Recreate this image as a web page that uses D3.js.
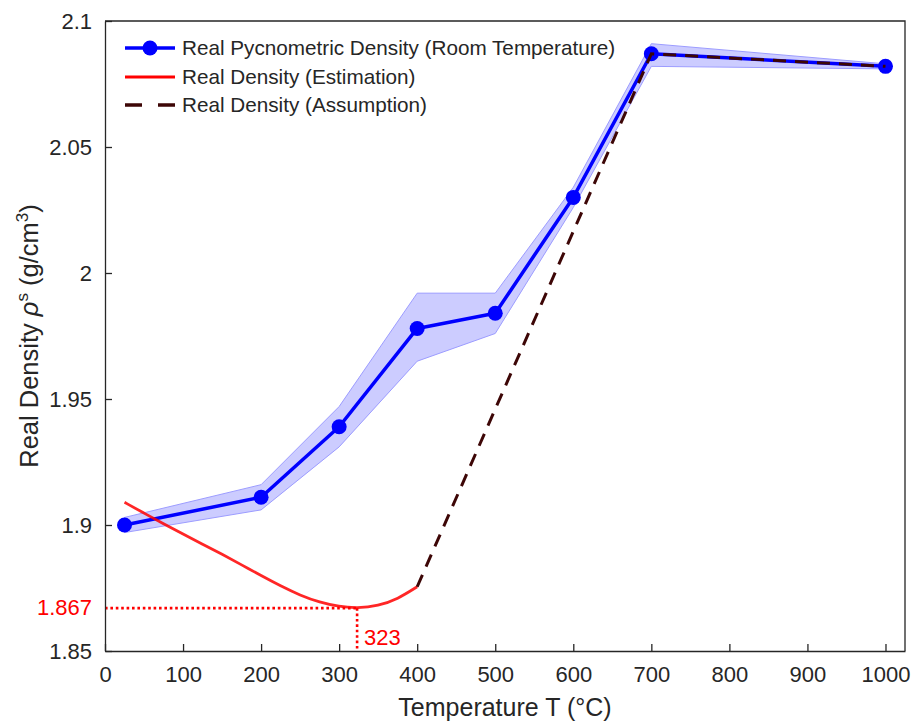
<!DOCTYPE html>
<html>
<head>
<meta charset="utf-8">
<script src="https://cdn.jsdelivr.net/npm/d3@7"></script>
<style>
	body{margin:0;background:#fff;}
	svg{font-family:"Liberation Sans",Arial,sans-serif;}
	.axis path,.axis line{stroke:#262626;stroke-width:1.3;}
	.axis text{fill:#262626;font-size:22px;}
</style>
</head>
<body>
<div id="chart"></div>
<script>
//Data
const temps = [25,200,300,400,500,600,700,1000];
const density = [1.900,1.911,1.939,1.978,1.984,2.030,2.087,2.082];
const densityUpper = [1.903,1.916,1.947,1.992,1.992,2.034,2.091,2.083];
const densityLower = [1.897,1.906,1.931,1.965,1.976,2.026,2.082,2.081];

const estT = [25,50,75,100,125,150,175,200,225,250,275,300,323,350,375,400];
const estRho = [1.909,1.9047,1.9005,1.8964,1.8924,1.8884,1.8842,1.8799,1.8758,1.8721,1.8693,1.8676,1.8670,1.8679,1.8706,1.8755];

const assumT = [400,700,1000];
const assumRho = [1.8755,2.087,2.082];

const minT = 323;
const minRho = 1.867;

const xTicks = [0,100,200,300,400,500,600,700,800,900,1000];
const yTicks = [1.85,1.9,1.95,2,2.05,2.1];
const yTickLabels = ['1.85','1.9','1.95','2','2.05','2.1'];

const legendLabels = [
	'Real Pycnometric Density (Room Temperature)',
	'Real Density (Estimation)',
	'Real Density (Assumption)'
];

const width = 914;
const height = 724;
const margin = {t:21,r:9,b:73,l:105};
const w = width - margin.l - margin.r;
const h = height - margin.t - margin.b;

const svg = d3.select('#chart').append('svg')
	.attr('width',width)
	.attr('height',height);

const plot = svg.append('g')
	.attr('transform',`translate(${margin.l},${margin.t})`);

//Scales
const scaleX = d3.scaleLinear().domain([0,1025]).range([0,w]);
const scaleY = d3.scaleLinear().domain([1.85,2.1]).range([h,0]);

const blue = temps.map((t,i) => ({t:t, v:density[i], hi:densityUpper[i], lo:densityLower[i]}));
const est = estT.map((t,i) => ({t:t, v:estRho[i]}));
const assum = assumT.map((t,i) => ({t:t, v:assumRho[i]}));

//Shaded band
const band = d3.area()
	.x(d => scaleX(d.t))
	.y0(d => scaleY(d.lo))
	.y1(d => scaleY(d.hi));
plot.append('path')
	.datum(blue)
	.attr('d',band)
	.style('fill','#ccccff')
	.style('stroke','#9c9cff')
	.style('stroke-width',1);

//Blue line + markers
const line = d3.line()
	.x(d => scaleX(d.t))
	.y(d => scaleY(d.v));
plot.append('path')
	.datum(blue)
	.attr('d',line)
	.style('fill','none')
	.style('stroke','#0000ff')
	.style('stroke-width',3.5)
	.style('stroke-linejoin','round');
plot.selectAll('.pt')
	.data(blue)
	.enter()
	.append('circle')
	.attr('class','pt')
	.attr('cx',d => scaleX(d.t))
	.attr('cy',d => scaleY(d.v))
	.attr('r',7.5)
	.style('fill','#0000ff');

//Estimation curve
const smooth = d3.line()
	.x(d => scaleX(d.t))
	.y(d => scaleY(d.v))
	.curve(d3.curveBasis);
plot.append('path')
	.datum(est)
	.attr('d',smooth)
	.style('fill','none')
	.style('stroke','#ff0000')
	.style('stroke-opacity',0.85)
	.style('stroke-width',2.8);

//Assumption dashed line
plot.append('path')
	.datum(assum)
	.attr('d',line)
	.style('fill','none')
	.style('stroke','#3d0606')
	.style('stroke-width',3)
	.style('stroke-dasharray','13,9');

//Minimum markers (dotted)
plot.append('line')
	.attr('x1',scaleX(0)).attr('x2',scaleX(minT))
	.attr('y1',scaleY(minRho)).attr('y2',scaleY(minRho))
	.style('stroke','#ff0000')
	.style('stroke-width',2.6)
	.style('stroke-dasharray','2.6,2.8');
plot.append('line')
	.attr('x1',scaleX(minT)).attr('x2',scaleX(minT))
	.attr('y1',scaleY(minRho)).attr('y2',scaleY(1.85))
	.style('stroke','#ff0000')
	.style('stroke-width',2.6)
	.style('stroke-dasharray','2.6,2.8');

plot.append('text')
	.attr('x',-13)
	.attr('y',scaleY(minRho))
	.attr('dy','0.32em')
	.attr('text-anchor','end')
	.style('font-size','22px')
	.style('fill','#ff0000')
	.text(String(minRho));
plot.append('text')
	.attr('x',scaleX(minT)+7)
	.attr('y',scaleY(1.85)-6)
	.style('font-size','22px')
	.style('fill','#ff0000')
	.text(String(minT));

//Axes
const axisX = d3.axisBottom()
	.scale(scaleX)
	.tickValues(xTicks)
	.tickFormat(d3.format('d'))
	.tickSizeInner(-7)
	.tickSizeOuter(0)
	.tickPadding(15);
const axisY = d3.axisLeft()
	.scale(scaleY)
	.tickValues(yTicks)
	.tickFormat((d,i) => yTickLabels[i])
	.tickSizeInner(-7)
	.tickSizeOuter(0)
	.tickPadding(13);

plot.append('g')
	.attr('class','axis axis-x')
	.attr('transform',`translate(0,${h})`)
	.call(axisX);
plot.append('g')
	.attr('class','axis axis-y')
	.call(axisY);

//Top + right border
plot.append('path')
	.attr('d',`M0,0H${w}V${h}`)
	.style('fill','none')
	.style('stroke','#262626')
	.style('stroke-width',1.3);

//Axis titles
svg.append('text')
	.attr('x',margin.l + w/2)
	.attr('y',716)
	.attr('text-anchor','middle')
	.style('font-size','25px')
	.style('fill','#262626')
	.text('Temperature T (°C)');

const yTitle = svg.append('text')
	.attr('transform',`translate(38,${margin.t + h/2}) rotate(-90)`)
	.attr('text-anchor','middle')
	.style('font-size','25.5px')
	.style('fill','#262626');
yTitle.append('tspan').text('Real Density ');
yTitle.append('tspan').style('font-style','italic').text('ρ');
yTitle.append('tspan').attr('dy',-10).style('font-size','17px').text('s');
yTitle.append('tspan').attr('dy',10).text(' (g/cm');
yTitle.append('tspan').attr('dy',-10).style('font-size','17px').text('3');
yTitle.append('tspan').attr('dy',10).text(')');

//Legend
const legendY = [48,77,105];
const legend = svg.append('g');
legend.append('line')
	.attr('x1',125).attr('x2',175).attr('y1',legendY[0]).attr('y2',legendY[0])
	.style('stroke','#0000ff').style('stroke-width',3.5);
legend.append('circle')
	.attr('cx',150).attr('cy',legendY[0]).attr('r',7.5)
	.style('fill','#0000ff');
legend.append('line')
	.attr('x1',125).attr('x2',175).attr('y1',legendY[1]).attr('y2',legendY[1])
	.style('stroke','#ff0000').style('stroke-width',3);
legend.append('line')
	.attr('x1',125).attr('x2',175).attr('y1',legendY[2]).attr('y2',legendY[2])
	.style('stroke','#3d0606').style('stroke-width',3.5)
	.style('stroke-dasharray','17,16');
legend.selectAll('.lbl')
	.data(legendLabels)
	.enter()
	.append('text')
	.attr('class','lbl')
	.attr('x',182)
	.attr('y',(d,i) => legendY[i])
	.attr('dy','0.35em')
	.style('font-size','20.7px')
	.style('fill','#262626')
	.text(d => d);
</script>
</body>
</html>
